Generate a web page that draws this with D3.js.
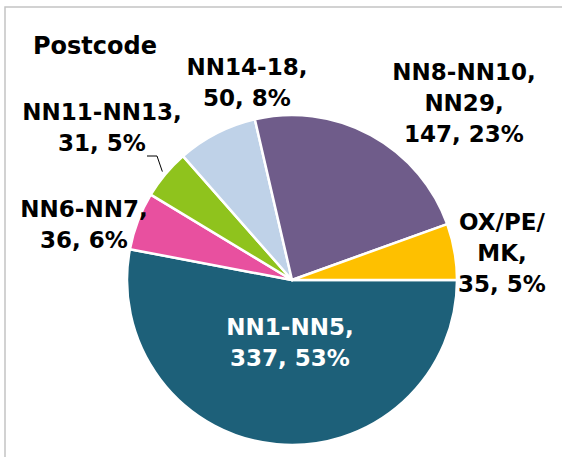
<!DOCTYPE html>
<html>
<head>
<meta charset="utf-8">
<script src="https://cdn.jsdelivr.net/npm/d3@7"></script>
<style>
  body { margin: 0; background: #fff; }
  svg { display: block; font-family: "DejaVu Sans", sans-serif; }
</style>
</head>
<body>
<svg id="chart" width="562" height="457"></svg>
<script>
// data (Excel pie, first slice at 3 o'clock)
const categories = ["NN1-NN5", "NN6-NN7", "NN11-NN13", "NN14-18", "NN8-NN10, NN29", "OX/PE/MK"];
const counts = [337, 36, 31, 50, 147, 35];
const percents = ["53%", "6%", "5%", "8%", "23%", "5%"];
const labelLines = [
  ["NN1-NN5,", "337, 53%"],
  ["NN6-NN7,", "36, 6%"],
  ["NN11-NN13,", "31, 5%"],
  ["NN14-18,", "50, 8%"],
  ["NN8-NN10,", "NN29,", "147, 23%"],
  ["OX/PE/", "MK,", "35, 5%"]
];

// layout / style
const colors = ["#1d6079", "#e8509f", "#8fc31d", "#bfd2e8", "#6f5c8a", "#fec000"];
const textColors = ["#ffffff", "#000", "#000", "#000", "#000", "#000"];
// label anchor (centre x, first baseline) relative to pie centre
const labelOffsets = [[-2, 55], [-208, -63], [-190, -160], [-45, -205], [172, -200], [210, -50]];
const lineGap = 31;
const cx = 292, cy = 280, radius = 165;

const svg = d3.select("#chart");

// chart area border (only top and left edges show)
svg.append("rect")
  .attr("x", 5).attr("y", 7)
  .attr("width", 700).attr("height", 600)
  .attr("fill", "none")
  .attr("stroke", "#c4c4c4")
  .attr("stroke-width", 1.5);

svg.append("text")
  .attr("x", 33).attr("y", 54)
  .style("font-size", "24px")
  .style("font-weight", "bold")
  .attr("fill", "#000")
  .text("Postcode");

const pie = d3.pie()
  .sort(null)
  .startAngle(Math.PI / 2)
  .endAngle(Math.PI / 2 + 2 * Math.PI)
  .value(d => d);

const arcs = pie(counts);
const arc = d3.arc().innerRadius(0).outerRadius(radius);

const g = svg.append("g").attr("transform", `translate(${cx},${cy})`);

g.selectAll("path.slice")
  .data(arcs)
  .enter()
  .append("path")
  .attr("class", "slice")
  .attr("d", arc)
  .attr("fill", (d, i) => colors[i])
  .attr("stroke", "#fff")
  .attr("stroke-width", 2.5)
  .attr("stroke-linejoin", "round");

// leader line for the small green slice
const green = arcs[2];
const midA = (green.startAngle + green.endAngle) / 2;
const tip = [Math.sin(midA) * (radius + 4), -Math.cos(midA) * (radius + 4)];
const elbow = [labelOffsets[2][0] + 55, labelOffsets[2][1] + 36];
g.append("polyline")
  .attr("points", [tip, elbow, [elbow[0] - 10, elbow[1]]].map(p => p.join(",")).join(" "))
  .attr("fill", "none")
  .attr("stroke", "#000")
  .attr("stroke-width", 1);

const labels = g.selectAll("text.lbl")
  .data(arcs)
  .enter()
  .append("text")
  .attr("class", "lbl")
  .attr("text-anchor", "middle")
  .style("font-size", "23px")
  .style("font-weight", "bold")
  .attr("fill", (d, i) => textColors[i]);

labels.each(function (d, i) {
  const t = d3.select(this);
  labelLines[i].forEach((line, j) => {
    t.append("tspan")
      .attr("x", labelOffsets[i][0])
      .attr("y", labelOffsets[i][1] + j * lineGap)
      .text(line);
  });
});
</script>
</body>
</html>
